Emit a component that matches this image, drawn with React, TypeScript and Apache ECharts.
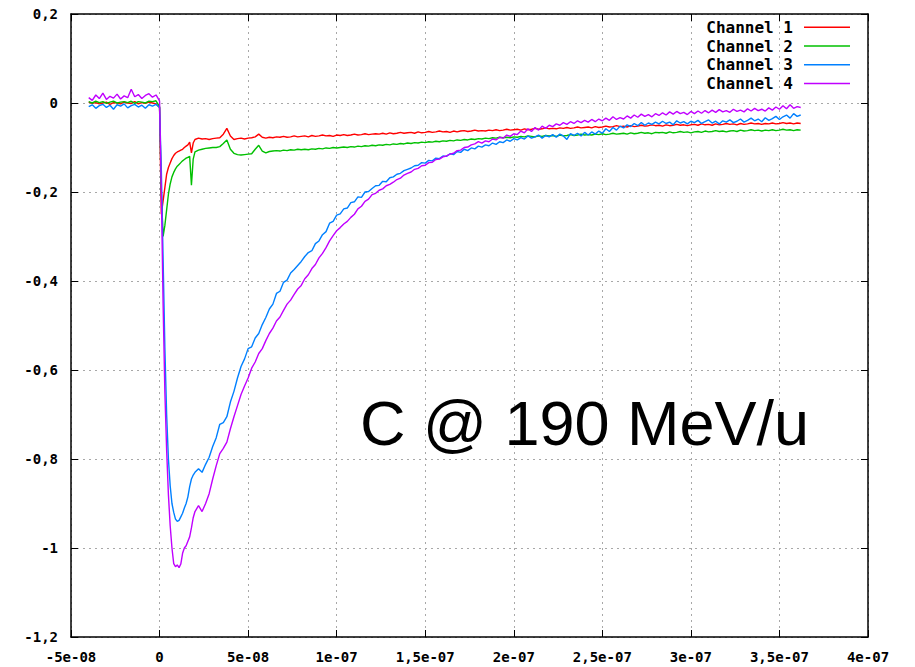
import React, { useEffect, useRef } from 'react';
import * as echarts from 'echarts';

// time in ns
const times = [
  -40, -38, -36, -34, -32, -30, -28, -26, -24, -22,
  -20, -18, -16, -14, -12, -10, -8, -6, -4, -2,
  0, 1, 2, 3, 4, 5, 6, 7, 8, 9, 10, 11, 12, 13, 14, 15, 16, 17, 18, 19, 20,
  22, 24, 26, 28, 30, 32, 34, 36, 38, 40,
  42, 44, 46, 48, 50, 52, 54, 56, 58, 60,
  62, 64, 66, 68, 70, 72, 74, 76, 78, 80,
  82, 84, 86, 88, 90, 92, 94, 96, 98, 100,
  102, 104, 106, 108, 110, 112, 114, 116, 118, 120,
  122, 124, 126, 128, 130, 132, 134, 136, 138, 140,
  142, 144, 146, 148, 150, 152, 154, 156, 158, 160,
  162, 164, 166, 168, 170, 172, 174, 176, 178, 180,
  182, 184, 186, 188, 190, 192, 194, 196, 198, 200,
  202, 204, 206, 208, 210, 212, 214, 216, 218, 220,
  222, 224, 226, 228, 230, 232, 234, 236, 238, 240,
  242, 244, 246, 248, 250, 252, 254, 256, 258, 260,
  262, 264, 266, 268, 270, 272, 274, 276, 278, 280,
  282, 284, 286, 288, 290, 292, 294, 296, 298, 300,
  302, 304, 306, 308, 310, 312, 314, 316, 318, 320,
  322, 324, 326, 328, 330, 332, 334, 336, 338, 340,
  342, 344, 346, 348, 350, 352, 354, 356, 358, 360,
  362,
];

const channel1 = [
  0.002, -0.001, 0.001, -0.002, 0.0, 0.002, -0.003, 0.001, 0.0, -0.002,
  0.002, 0.0, -0.001, 0.003, -0.002, 0.001, -0.001, 0.002, 0.0, -0.002,
  -0.01, -0.25, -0.22, -0.19, -0.16, -0.145, -0.135, -0.125, -0.118, -0.113, -0.11, -0.108, -0.106, -0.104, -0.1, -0.097, -0.094, -0.088, -0.112, -0.09, -0.082,
  -0.079, -0.081, -0.08, -0.082, -0.08, -0.079, -0.078, -0.07, -0.057, -0.074,
  -0.082, -0.08, -0.079, -0.081, -0.079, -0.078, -0.076, -0.07, -0.077, -0.079,
  -0.077, -0.078, -0.076, -0.077, -0.075, -0.077, -0.076, -0.074, -0.076, -0.075,
  -0.074, -0.076, -0.073, -0.075, -0.074, -0.072, -0.074, -0.073, -0.075, -0.072,
  -0.073, -0.071, -0.073, -0.072, -0.07, -0.072, -0.071, -0.069, -0.071, -0.07,
  -0.069, -0.07, -0.068, -0.07, -0.067, -0.069, -0.068, -0.066, -0.068, -0.067,
  -0.066, -0.068, -0.065, -0.067, -0.066, -0.064, -0.066, -0.065, -0.063, -0.065,
  -0.064, -0.066, -0.063, -0.065, -0.063, -0.062, -0.064, -0.063, -0.061, -0.063,
  -0.062, -0.063, -0.061, -0.062, -0.06, -0.062, -0.061, -0.059, -0.061, -0.06,
  -0.059, -0.061, -0.058, -0.06, -0.059, -0.057, -0.059, -0.058, -0.056, -0.058,
  -0.057, -0.058, -0.056, -0.057, -0.055, -0.057, -0.056, -0.054, -0.056, -0.055,
  -0.054, -0.056, -0.053, -0.055, -0.054, -0.052, -0.054, -0.053, -0.051, -0.053,
  -0.052, -0.054, -0.051, -0.053, -0.052, -0.05, -0.052, -0.051, -0.049, -0.051,
  -0.05, -0.052, -0.049, -0.051, -0.05, -0.048, -0.05, -0.049, -0.051, -0.049,
  -0.048, -0.05, -0.047, -0.049, -0.048, -0.05, -0.047, -0.049, -0.048, -0.046,
  -0.048, -0.047, -0.049, -0.046, -0.048, -0.047, -0.045, -0.047, -0.046, -0.048,
  -0.046, -0.047, -0.045, -0.047, -0.046, -0.044, -0.046, -0.045, -0.047, -0.045,
  -0.046,
];

const channel2 = [
  0.003, 0.0, 0.004, 0.001, 0.003, -0.001, 0.002, 0.004, 0.0, 0.002,
  0.003, 0.001, 0.004, -0.001, 0.003, 0.002, 0.0, 0.004, 0.003, 0.005,
  -0.008, -0.2, -0.3, -0.275, -0.24, -0.205, -0.182, -0.166, -0.156, -0.148, -0.142, -0.138, -0.134, -0.13, -0.127, -0.124, -0.122, -0.12, -0.185, -0.126, -0.11,
  -0.106, -0.104, -0.102, -0.101, -0.1, -0.1, -0.098, -0.091, -0.083, -0.104,
  -0.113, -0.116, -0.117, -0.116, -0.115, -0.114, -0.104, -0.095, -0.108, -0.112,
  -0.109, -0.108, -0.107, -0.108, -0.106, -0.107, -0.105, -0.106, -0.104, -0.105,
  -0.104, -0.105, -0.103, -0.104, -0.102, -0.103, -0.101, -0.102, -0.1, -0.101,
  -0.1, -0.099, -0.1, -0.098, -0.099, -0.097, -0.098, -0.096, -0.097, -0.095,
  -0.096, -0.094, -0.095, -0.093, -0.094, -0.092, -0.093, -0.091, -0.092, -0.09,
  -0.091, -0.089, -0.09, -0.088, -0.089, -0.087, -0.088, -0.086, -0.087, -0.085,
  -0.086, -0.084, -0.085, -0.083, -0.084, -0.082, -0.083, -0.081, -0.082, -0.08,
  -0.081, -0.079, -0.08, -0.078, -0.079, -0.077, -0.078, -0.077, -0.078, -0.076,
  -0.077, -0.075, -0.076, -0.074, -0.075, -0.076, -0.074, -0.075, -0.073, -0.074,
  -0.073, -0.075, -0.072, -0.074, -0.073, -0.071, -0.073, -0.072, -0.07, -0.072,
  -0.071, -0.072, -0.07, -0.071, -0.069, -0.071, -0.07, -0.068, -0.07, -0.069,
  -0.068, -0.07, -0.067, -0.069, -0.068, -0.066, -0.068, -0.067, -0.069, -0.066,
  -0.067, -0.066, -0.068, -0.065, -0.067, -0.066, -0.064, -0.066, -0.065, -0.067,
  -0.065, -0.064, -0.066, -0.063, -0.065, -0.064, -0.062, -0.064, -0.063, -0.065,
  -0.063, -0.062, -0.064, -0.061, -0.063, -0.062, -0.06, -0.062, -0.061, -0.063,
  -0.061, -0.062, -0.06, -0.062, -0.061, -0.059, -0.061, -0.06, -0.062, -0.06,
  -0.061,
];

const channel3 = [
  -0.008, -0.004, -0.012, -0.006, -0.003, -0.01, -0.005, -0.014, -0.004, -0.007,
  -0.002, -0.011, -0.006, -0.003, -0.009, -0.005, -0.012, -0.004, -0.007, -0.003,
  -0.01, -0.15, -0.35, -0.55, -0.7, -0.8, -0.86, -0.9, -0.92, -0.935, -0.94, -0.938, -0.93, -0.922, -0.91, -0.9, -0.885, -0.862, -0.845, -0.836, -0.83,
  -0.822, -0.83, -0.812, -0.796, -0.772, -0.752, -0.722, -0.718, -0.705, -0.672,
  -0.648, -0.618, -0.592, -0.575, -0.552, -0.548, -0.528, -0.518, -0.498, -0.482,
  -0.463, -0.452, -0.428, -0.423, -0.403, -0.398, -0.382, -0.374, -0.365, -0.356,
  -0.345, -0.336, -0.332, -0.316, -0.31, -0.296, -0.289, -0.27, -0.266, -0.252,
  -0.249, -0.238, -0.236, -0.224, -0.222, -0.211, -0.212, -0.2, -0.199, -0.192,
  -0.186, -0.185, -0.176, -0.177, -0.168, -0.166, -0.16, -0.158, -0.152, -0.149,
  -0.146, -0.141, -0.14, -0.134, -0.135, -0.129, -0.13, -0.124, -0.125, -0.119,
  -0.12, -0.114, -0.116, -0.109, -0.111, -0.104, -0.107, -0.101, -0.103, -0.097,
  -0.099, -0.094, -0.096, -0.09, -0.093, -0.087, -0.089, -0.083, -0.086, -0.08,
  -0.083, -0.078, -0.081, -0.074, -0.079, -0.076, -0.072, -0.079, -0.073, -0.076,
  -0.071, -0.077, -0.07, -0.074, -0.082, -0.069, -0.073, -0.068, -0.074, -0.066,
  -0.072, -0.065, -0.07, -0.063, -0.068, -0.058, -0.064, -0.055, -0.061, -0.052,
  -0.056, -0.049, -0.053, -0.046, -0.051, -0.044, -0.05, -0.045, -0.048, -0.043,
  -0.047, -0.041, -0.046, -0.043, -0.049, -0.04, -0.045, -0.042, -0.047, -0.041,
  -0.044, -0.039, -0.046, -0.042, -0.038, -0.045, -0.041, -0.047, -0.04, -0.043,
  -0.038, -0.044, -0.041, -0.036, -0.043, -0.039, -0.034, -0.04, -0.036, -0.042,
  -0.033, -0.039, -0.035, -0.03, -0.037, -0.031, -0.027, -0.034, -0.024, -0.03,
  -0.027,
];

const channel4 = [
  0.012, 0.006, 0.018, 0.01, 0.022, 0.008, 0.015, 0.011, 0.02, 0.009,
  0.016, 0.012, 0.031, 0.014, 0.019, 0.01, 0.017, 0.021, 0.013, 0.018,
  0.005, -0.2, -0.45, -0.65, -0.78, -0.88, -0.95, -1.0, -1.035, -1.042, -1.038, -1.044, -1.036, -1.012, -1.0, -0.995, -0.985, -0.975, -0.955, -0.932, -0.918,
  -0.905, -0.918, -0.9, -0.878, -0.845, -0.815, -0.788, -0.776, -0.762, -0.732,
  -0.705, -0.68, -0.655, -0.636, -0.618, -0.596, -0.582, -0.563, -0.552, -0.534,
  -0.518, -0.506, -0.49, -0.481, -0.466, -0.452, -0.443, -0.43, -0.418, -0.41,
  -0.395, -0.386, -0.372, -0.363, -0.348, -0.338, -0.325, -0.31, -0.298, -0.287,
  -0.28, -0.272, -0.266, -0.257, -0.25, -0.238, -0.232, -0.221, -0.216, -0.206,
  -0.203, -0.196, -0.193, -0.186, -0.183, -0.178, -0.172, -0.169, -0.162, -0.158,
  -0.155, -0.149, -0.147, -0.141, -0.14, -0.134, -0.133, -0.127, -0.126, -0.121,
  -0.119, -0.115, -0.113, -0.107, -0.106, -0.1, -0.099, -0.094, -0.092, -0.087,
  -0.09, -0.085, -0.087, -0.081, -0.083, -0.077, -0.079, -0.072, -0.075, -0.069,
  -0.071, -0.063, -0.067, -0.058, -0.064, -0.055, -0.061, -0.052, -0.057, -0.05,
  -0.053, -0.047, -0.05, -0.044, -0.048, -0.042, -0.046, -0.04, -0.044, -0.039,
  -0.043, -0.037, -0.042, -0.036, -0.04, -0.034, -0.039, -0.031, -0.037, -0.033,
  -0.036, -0.029, -0.034, -0.027, -0.032, -0.025, -0.03, -0.026, -0.031, -0.024,
  -0.028, -0.022, -0.027, -0.02, -0.025, -0.019, -0.024, -0.021, -0.026, -0.019,
  -0.024, -0.018, -0.023, -0.017, -0.022, -0.016, -0.021, -0.015, -0.02, -0.017,
  -0.021, -0.014, -0.019, -0.016, -0.02, -0.013, -0.018, -0.012, -0.017, -0.014,
  -0.018, -0.011, -0.016, -0.009, -0.014, -0.006, -0.013, -0.004, -0.012, -0.008,
  -0.01,
];

const seriesNames = ['Channel 1', 'Channel 2', 'Channel 3', 'Channel 4'];
const seriesColors = ['#ff0000', '#00c000', '#0080ff', '#c000ff'];
const xTickLabels = ['-5e-08', '0', '5e-08', '1e-07', '1,5e-07', '2e-07', '2,5e-07', '3e-07', '3,5e-07', '4e-07'];
const yTickLabels = ['0,2', '0', '-0,2', '-0,4', '-0,6', '-0,8', '-1', '-1,2'];
const annotationText = 'C @ 190 MeV/u';

const X_MIN = -50;
const X_MAX = 400;
const X_STEP = 50;
const Y_MIN = -1.2;
const Y_MAX = 0.2;
const Y_STEP = 0.2;

const tickFont = {
  fontFamily: '"DejaVu Sans Mono", monospace',
  fontWeight: 'bold' as const,
  fontSize: 14,
  color: '#000',
};

export default function App() {
  const ref = useRef<HTMLDivElement>(null);

  useEffect(() => {
    document.body.style.margin = '0';
    if (!ref.current) return;
    const chart = echarts.init(ref.current, undefined, { renderer: 'svg' });
    const allData = [channel1, channel2, channel3, channel4];
    const frameLine = { show: true, onZero: false, lineStyle: { color: '#000', width: 1.5 } };
    const gridLine = { show: true, lineStyle: { color: '#a8a8a8', width: 1, type: [2, 4] as number[] } };
    const xFmt = (v: number) => xTickLabels[Math.round((v - X_MIN) / X_STEP)] ?? '';
    const yFmt = (v: number) => yTickLabels[Math.round((Y_MAX - v) / Y_STEP)] ?? '';

    chart.setOption({
      animation: false,
      backgroundColor: '#fff',
      grid: { left: 71, right: 47, top: 14, bottom: 30, containLabel: false },
      xAxis: [
        {
          type: 'value', min: X_MIN, max: X_MAX, interval: X_STEP, position: 'bottom',
          axisLine: frameLine,
          axisTick: { show: true, inside: true, length: 7, lineStyle: { color: '#000', width: 1 } },
          axisLabel: { ...tickFont, margin: 13, formatter: xFmt },
          splitLine: gridLine,
        },
        {
          type: 'value', min: X_MIN, max: X_MAX, interval: X_STEP, position: 'top',
          axisLine: frameLine,
          axisTick: { show: true, inside: true, length: 7, lineStyle: { color: '#000', width: 1 } },
          axisLabel: { show: false },
          splitLine: { show: false },
        },
      ],
      yAxis: [
        {
          type: 'value', min: Y_MIN, max: Y_MAX, interval: Y_STEP, position: 'left',
          axisLine: frameLine,
          axisTick: { show: true, inside: true, length: 7, lineStyle: { color: '#000', width: 1 } },
          axisLabel: { ...tickFont, margin: 13, formatter: yFmt },
          splitLine: gridLine,
        },
        {
          type: 'value', min: Y_MIN, max: Y_MAX, interval: Y_STEP, position: 'right',
          axisLine: frameLine,
          axisTick: { show: true, inside: true, length: 7, lineStyle: { color: '#000', width: 1 } },
          axisLabel: { show: false },
          splitLine: { show: false },
        },
      ],
      legend: {
        data: seriesNames,
        orient: 'vertical',
        right: 65,
        top: 18,
        align: 'right',
        icon: 'rect',
        itemWidth: 46,
        itemHeight: 1.5,
        itemGap: 0,
        padding: 0,
        selectedMode: false,
        textStyle: {
          fontFamily: '"DejaVu Sans Mono", monospace',
          fontWeight: 'bold',
          fontSize: 16,
          color: '#000',
          lineHeight: 18.7,
          padding: [0, 6, 0, 0],
        },
      },
      series: seriesNames.map((name, si) => ({
        name,
        type: 'line',
        xAxisIndex: 0,
        yAxisIndex: 0,
        showSymbol: false,
        symbol: 'none',
        color: seriesColors[si],
        lineStyle: { color: seriesColors[si], width: 1.4 },
        data: times.map((t, i) => [t, allData[si][i]]),
        z: 2 + si,
      })),
      graphic: [
        {
          type: 'text',
          x: 360,
          y: 423,
          z: 100,
          style: {
            text: annotationText,
            font: '63px "Liberation Sans", Arial, sans-serif',
            fill: '#000',
            verticalAlign: 'middle',
            align: 'left',
          },
        },
      ],
    });

    return () => chart.dispose();
  }, []);

  return (
    <div
      ref={ref}
      style={{ position: 'absolute', left: 0, top: 0, width: 915, height: 667, background: '#fff' }}
    />
  );
}
